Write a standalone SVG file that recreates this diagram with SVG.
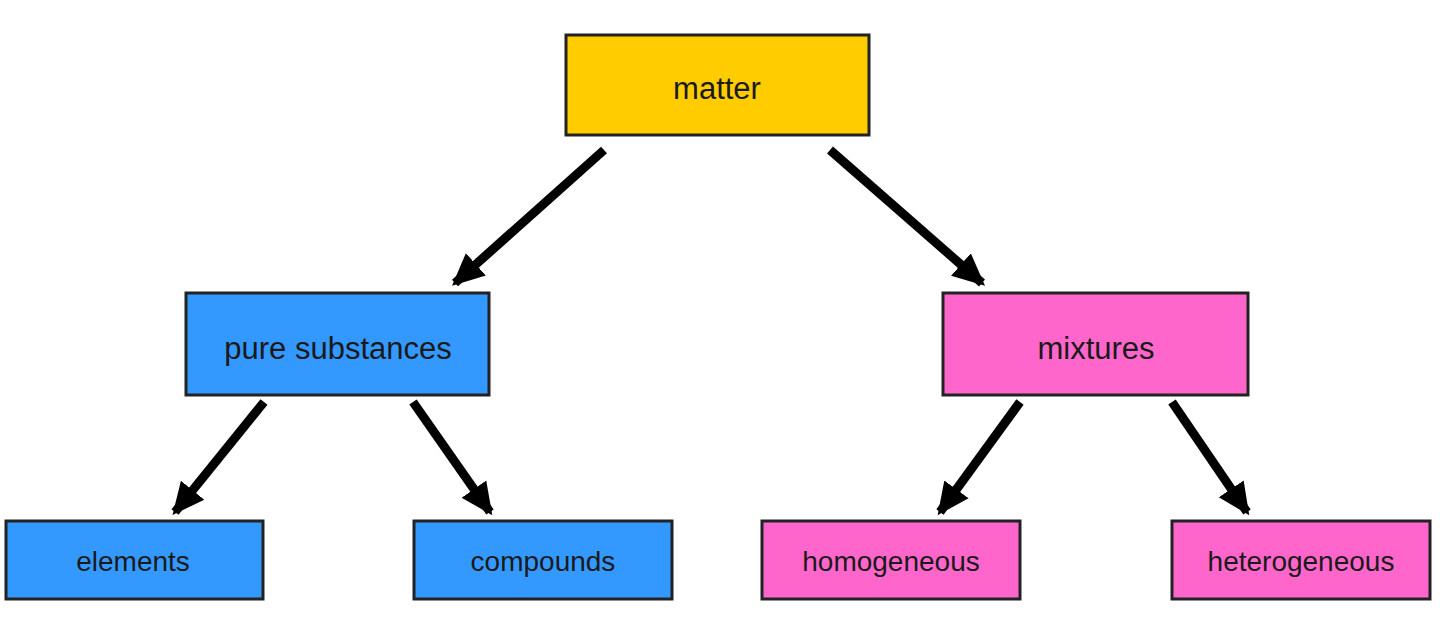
<svg xmlns="http://www.w3.org/2000/svg" width="1440" height="619" viewBox="0 0 1440 619">
<style>
.n{stroke:#222;stroke-width:3}
.t{font-family:"Liberation Sans",Arial,sans-serif;fill:#1a1a1a;text-anchor:middle;dominant-baseline:central}
.c{stroke:#000;stroke-width:9;fill:none;marker-end:url(#a)}
</style>
<defs><marker id="a" markerUnits="userSpaceOnUse" markerWidth="34" markerHeight="34" refX="28" refY="17" orient="auto" viewBox="0 0 34 34"><path d="M0,2 L32,17 L0,32 Z" fill="#000"/></marker></defs>
<rect width="1440" height="619" fill="#fff"/>
<g id="connectors">
<line class="c" x1="604" y1="150" x2="455" y2="283"/>
<line class="c" x1="830" y1="150" x2="982" y2="283"/>
<line class="c" x1="264" y1="402" x2="175" y2="512"/>
<line class="c" x1="413" y1="402" x2="490" y2="512"/>
<line class="c" x1="1020" y1="402" x2="940" y2="512"/>
<line class="c" x1="1172" y1="402" x2="1247" y2="512"/>
</g>
<g id="matter"><rect class="n" x="566" y="35" width="303" height="100" fill="#FFCC00"/><text class="t" x="717" y="88" font-size="31">matter</text></g>
<g id="pure"><rect class="n" x="186" y="293" width="303" height="102" fill="#3399FF"/><text class="t" x="338" y="348" font-size="31">pure substances</text></g>
<g id="mixtures"><rect class="n" x="943" y="293" width="305" height="102" fill="#FF66CC"/><text class="t" x="1096" y="348" font-size="31">mixtures</text></g>
<g id="elements"><rect class="n" x="6" y="521" width="257" height="78" fill="#3399FF"/><text class="t" x="133" y="561" font-size="28">elements</text></g>
<g id="compounds"><rect class="n" x="414" y="521" width="258" height="78" fill="#3399FF"/><text class="t" x="543" y="561" font-size="28">compounds</text></g>
<g id="homogeneous"><rect class="n" x="762" y="521" width="258" height="78" fill="#FF66CC"/><text class="t" x="891" y="561" font-size="28">homogeneous</text></g>
<g id="heterogeneous"><rect class="n" x="1172" y="521" width="258" height="78" fill="#FF66CC"/><text class="t" x="1301" y="561" font-size="28">heterogeneous</text></g>
</svg>
